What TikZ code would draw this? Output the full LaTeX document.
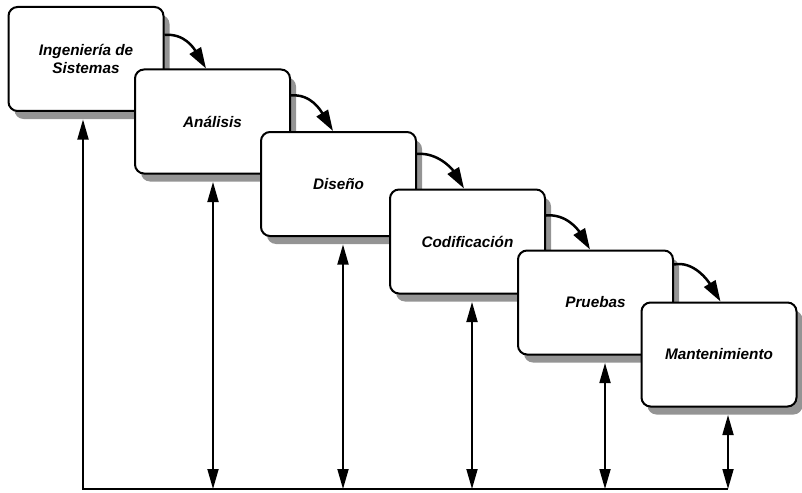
\documentclass[tikz,border=0pt]{standalone}
\usepackage{fontspec}
\setmainfont{Liberation Sans}
\usetikzlibrary{arrows.meta,shadows}
\begin{document}
\begin{tikzpicture}[x=1pt,y=-1pt,
  phase/.style={draw=black, line width=2pt, rounded corners=9pt, fill=white,
    minimum width=155pt, minimum height=104pt, inner sep=0pt, align=center,
    font=\fontsize{15.3}{18}\selectfont\bfseries\itshape,
    general shadow={fill=black!42, draw=none, shadow xshift=6pt, shadow yshift=-8pt}},
  flow/.style={line width=2.5pt, -{Triangle[length=21pt,width=13pt]}},
  link/.style={line width=1.8pt},
  tip/.tip={Triangle[length=20pt,width=11pt]}
]
\useasboundingbox (0,0) rectangle (802,492);

% the six phases, each one stacked over the previous one
\node[phase] (b1) at (86,59)      {Ingeniería de\\Sistemas};
\node[phase] (b2) at (212.5,121.5) {Análisis};
\node[phase] (b3) at (338.5,184)  {Diseño};
\node[phase] (b4) at (467.5,241.5) {Codificación};
\node[phase] (b5) at (595.5,302.5) {Pruebas};
\node[phase] (b6) at (719,354.5)  {Mantenimiento};

% cascade arrows between consecutive phases
\draw[flow] ([yshift=-29pt]b1.north east) .. controls +(20,-2) and +(-12,-20) .. ([xshift=-6.5pt]b2.north);
\draw[flow] ([yshift=-27pt]b2.north east) .. controls +(20,-2) and +(-12,-20) .. ([xshift=-5.5pt]b3.north);
\draw[flow] ([yshift=-23pt]b3.north east) .. controls +(20,-2) and +(-12,-20) .. ([xshift=-3.5pt]b4.north);
\draw[flow] ([yshift=-27pt]b4.north east) .. controls +(20,-2) and +(-12,-20) .. ([xshift=-5.5pt]b5.north);
\draw[flow] ([yshift=-15pt]b5.north east) .. controls +(20,-4) and +(-12,-20) .. ([xshift=1.5pt]b6.north);

% feedback rail below the phases
\coordinate (base) at (0,489);
\coordinate (t1) at ([xshift=-3pt,yshift=-7.5pt]b1.south);
\coordinate (t2) at ([xshift=0.5pt,yshift=-7.5pt]b2.south);
\coordinate (t3) at ([xshift=4.5pt,yshift=-7.5pt]b3.south);
\coordinate (t4) at ([xshift=4.5pt,yshift=-7.5pt]b4.south);
\coordinate (t5) at ([xshift=9.5pt,yshift=-7.5pt]b5.south);
\coordinate (t6) at ([xshift=9pt,yshift=-7.5pt]b6.south);

\draw[link, tip-] (t1) -- (t1 |- base) -- (t6 |- base);
\foreach \k in {2,...,6}
  \draw[link, tip-tip] (t\k) -- (t\k |- base);
\end{tikzpicture}
\end{document}
